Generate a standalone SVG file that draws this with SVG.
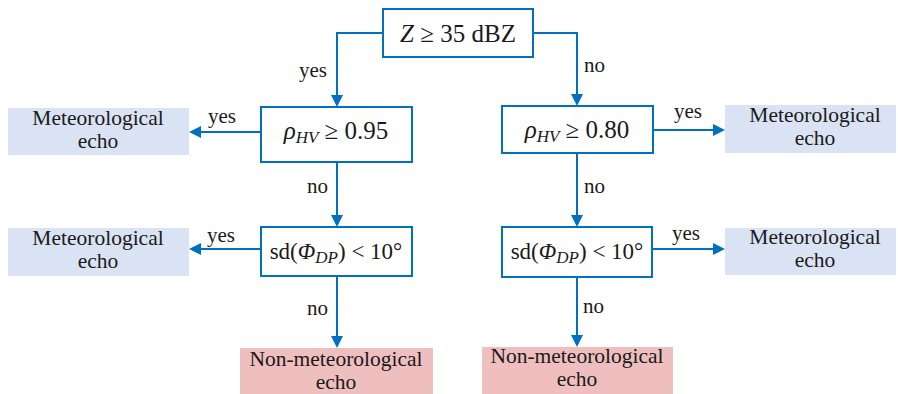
<svg xmlns="http://www.w3.org/2000/svg" width="898" height="394" viewBox="0 0 898 394">
<style>
.dec{fill:#ffffff;stroke:#0070c0;stroke-width:2}
.met{fill:#dae3f3}
.non{fill:#efbfbf}
.t{font-family:"Liberation Serif","DejaVu Serif",serif;font-size:21.5px;fill:#1a1a1a;text-anchor:middle}
.m{font-family:"Liberation Serif","DejaVu Serif",serif;font-size:25px;fill:#1a1a1a;text-anchor:middle}
.m2{font-family:"Liberation Serif","DejaVu Serif",serif;font-size:23px;fill:#1a1a1a;text-anchor:middle}
.lb{font-family:"Liberation Serif","DejaVu Serif",serif;font-size:21px;fill:#1a1a1a}
.i{font-style:italic}
.s{font-size:17px;font-style:italic}
.c{fill:none;stroke:#0070c0;stroke-width:2}
</style>
<rect width="898" height="394" fill="#ffffff"/>
<g id="connectors">
<path class="c" d="M383,33 H337 V97"/>
<path class="c" d="M533,33 H577 V96"/>
<path class="c" d="M261,132 H199"/>
<path class="c" d="M653,130 H715"/>
<path class="c" d="M337,162 V217"/>
<path class="c" d="M577,153 V217"/>
<path class="c" d="M261,249 H199"/>
<path class="c" d="M652,249 H715"/>
<path class="c" d="M337,276 V338"/>
<path class="c" d="M577,277 V337"/>
<g fill="#0070c0">
<path d="M331,95 L343,95 L337,107 z"/>
<path d="M571,94 L583,94 L577,106 z"/>
<path d="M201,126 L201,138 L189,132 z"/>
<path d="M713,124 L713,136 L725,130 z"/>
<path d="M331,215 L343,215 L337,227 z"/>
<path d="M571,215 L583,215 L577,227 z"/>
<path d="M201,243 L201,255 L189,249 z"/>
<path d="M713,243 L713,255 L725,249 z"/>
<path d="M331,336 L343,336 L337,348 z"/>
<path d="M571,335 L583,335 L577,347 z"/>
</g>
<text class="lb" x="299" y="77">yes</text>
<text class="lb" x="584" y="72">no</text>
<text class="lb" x="208" y="123">yes</text>
<text class="lb" x="674" y="118">yes</text>
<text class="lb" x="307" y="193">no</text>
<text class="lb" x="584" y="193">no</text>
<text class="lb" x="207" y="242">yes</text>
<text class="lb" x="672" y="240">yes</text>
<text class="lb" x="307" y="315">no</text>
<text class="lb" x="583" y="313">no</text>
</g>
<g id="n_z">
<rect class="dec" x="383" y="9" width="150" height="48"/>
<text class="m" x="458" y="42"><tspan class="i">Z</tspan> ≥ 35 dBZ</text>
</g>
<g id="n_rho95">
<rect class="dec" x="261" y="107" width="151" height="55"/>
<text class="m" x="336" y="139"><tspan class="i">ρ</tspan><tspan class="s" dy="4">HV</tspan><tspan dy="-4"> ≥ 0.95</tspan></text>
</g>
<g id="n_rho80">
<rect class="dec" x="502" y="106" width="151" height="47"/>
<text class="m" x="577" y="138"><tspan class="i">ρ</tspan><tspan class="s" dy="4">HV</tspan><tspan dy="-4"> ≥ 0.80</tspan></text>
</g>
<g id="n_sd_l">
<rect class="dec" x="261" y="227" width="151" height="49"/>
<text class="m2" x="336" y="259">sd(<tspan class="i">Φ</tspan><tspan class="s" dy="4">DP</tspan><tspan dy="-4">) &lt; 10°</tspan></text>
</g>
<g id="n_sd_r">
<rect class="dec" x="502" y="227" width="150" height="50"/>
<text class="m2" x="577" y="259">sd(<tspan class="i">Φ</tspan><tspan class="s" dy="4">DP</tspan><tspan dy="-4">) &lt; 10°</tspan></text>
</g>
<g id="n_met1">
<rect class="met" x="8" y="108" width="181" height="47"/>
<text class="t" x="98" y="125">Meteorological</text>
<text class="t" x="98" y="148">echo</text>
</g>
<g id="n_met2">
<rect class="met" x="725" y="105" width="171" height="48"/>
<text class="t" x="815" y="122">Meteorological</text>
<text class="t" x="815" y="145">echo</text>
</g>
<g id="n_met3">
<rect class="met" x="8" y="228" width="181" height="48"/>
<text class="t" x="98" y="245">Meteorological</text>
<text class="t" x="98" y="268">echo</text>
</g>
<g id="n_met4">
<rect class="met" x="725" y="228" width="171" height="47"/>
<text class="t" x="815" y="244">Meteorological</text>
<text class="t" x="815" y="267">echo</text>
</g>
<g id="n_non1">
<rect class="non" x="240" y="348" width="193" height="46"/>
<text class="t" x="336" y="366">Non-meteorological</text>
<text class="t" x="336" y="389">echo</text>
</g>
<g id="n_non2">
<rect class="non" x="482" y="347" width="191" height="47"/>
<text class="t" x="577" y="363">Non-meteorological</text>
<text class="t" x="577" y="386">echo</text>
</g>
</svg>
